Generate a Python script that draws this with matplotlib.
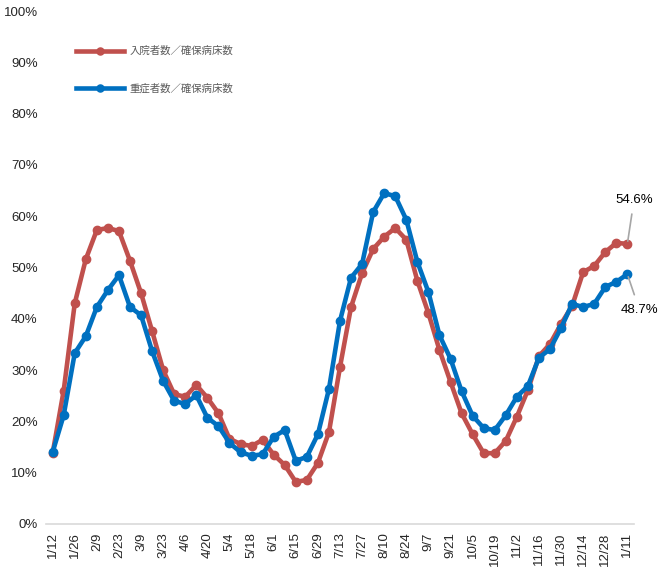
import numpy as np
import matplotlib
matplotlib.use('Agg')
import matplotlib.pyplot as plt

plt.rcParams['font.family'] = ['Noto Sans CJK JP', 'DejaVu Sans']

# weekly dates, 1/12 .. 1/11 (next year)
tick_labels = ['1/12', '1/26', '2/9', '2/23', '3/9', '3/23', '4/6', '4/20', '5/4',
               '5/18', '6/1', '6/15', '6/29', '7/13', '7/27', '8/10', '8/24', '9/7',
               '9/21', '10/5', '10/19', '11/2', '11/16', '11/30', '12/14', '12/28', '1/11']

hosp = [13.8, 26.0, 43.0, 51.6, 57.3, 57.7, 57.1, 51.3, 45.0, 37.6,
        30.0, 25.3, 24.8, 27.1, 24.6, 21.6, 16.6, 15.6, 15.2, 16.4,
        13.5, 11.5, 8.2, 8.6, 11.9, 17.9, 30.6, 42.3, 48.9, 53.6,
        56.0, 57.7, 55.4, 47.4, 41.1, 33.9, 27.7, 21.6, 17.5, 13.8,
        13.8, 16.2, 20.9, 26.1, 32.7, 35.1, 39.0, 42.5, 49.1, 50.3,
        53.0, 54.8, 54.6]

severe = [14.0, 21.2, 33.3, 36.6, 42.3, 45.6, 48.5, 42.3, 40.7, 33.7,
          27.9, 24.0, 23.4, 25.1, 20.7, 19.1, 15.8, 14.0, 13.3, 13.6,
          17.0, 18.3, 12.3, 13.1, 17.5, 26.3, 39.6, 48.0, 50.7, 60.8,
          64.5, 63.9, 59.3, 51.1, 45.2, 36.8, 32.2, 25.9, 21.1, 18.7,
          18.3, 21.2, 24.8, 26.9, 32.4, 34.1, 38.2, 42.9, 42.3, 42.9,
          46.2, 47.2, 48.7]

RED = '#C0504D'
BLUE = '#0070C0'

x = np.arange(len(hosp))

fig = plt.figure(figsize=(6.67, 5.73), dpi=100)
ax = fig.add_axes([46 / 667, 49 / 573, 588 / 667, 513 / 573])

ax.plot(x, hosp, color=RED, linewidth=3.3, marker='o', markersize=6,
        label='入院者数／確保病床数', zorder=2)
ax.plot(x, severe, color=BLUE, linewidth=3.3, marker='o', markersize=6,
        label='重症者数／確保病床数', zorder=3)

ax.set_xlim(-0.6, len(x) - 0.4)
ax.set_ylim(0, 100)
ax.set_yticks(np.arange(0, 101, 10))
ax.set_yticklabels([f'{v}%' for v in range(0, 101, 10)], fontsize=9.5,
                   color='#262626', family=['Liberation Sans', 'DejaVu Sans'])
ax.set_xticks(x[::2])
ax.set_xticklabels(tick_labels, rotation=90, fontsize=9.5, color='#262626',
                   family=['Liberation Sans', 'DejaVu Sans'])
ax.tick_params(length=0, pad=6)

for s in ['top', 'right', 'left']:
    ax.spines[s].set_visible(False)
ax.spines['bottom'].set_color('#D9D9D9')
ax.spines['bottom'].set_linewidth(1.2)

# end labels
ax.annotate(f'{hosp[-1]:.1f}%', xy=(x[-1], hosp[-1]), xytext=(x[-1] + 0.6, 63.2),
            ha='center', va='center', fontsize=9.5,
            family=['Liberation Sans', 'DejaVu Sans'],
            arrowprops=dict(arrowstyle='-', color='#A6A6A6', lw=1.2,
                            shrinkA=4, shrinkB=2))
ax.annotate(f'{severe[-1]:.1f}%', xy=(x[-1], severe[-1]), xytext=(x[-1] + 1.1, 41.7),
            ha='center', va='center', fontsize=9.5,
            family=['Liberation Sans', 'DejaVu Sans'],
            arrowprops=dict(arrowstyle='-', color='#A6A6A6', lw=1.2,
                            shrinkA=5, shrinkB=2))

leg = ax.legend(loc='upper left', bbox_to_anchor=(0.035, 0.95), frameon=False,
                fontsize=7.5, labelspacing=2.6, handlelength=4.6, handletextpad=0.5,
                markerscale=0.85)
for t in leg.get_texts():
    t.set_color('#595959')

fig.savefig('out.png', dpi=100)
